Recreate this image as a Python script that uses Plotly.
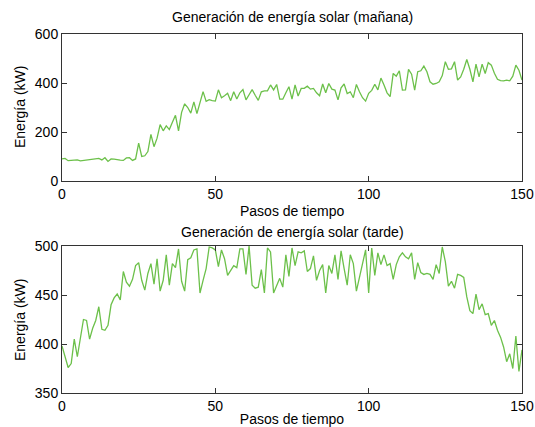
import plotly.graph_objects as go

steps = list(range(151))

morning_kw = [90, 92, 83, 85, 84, 86, 82, 84, 87, 88, 90, 90, 92, 86, 95, 80, 90, 89, 86, 85,
              84, 94, 95, 84, 90, 155, 100, 103, 120, 190, 140, 175, 230, 205, 225, 210, 240, 268, 205, 280,
              315, 300, 277, 323, 275, 320, 365, 325, 332, 328, 326, 372, 340, 348, 358, 328, 364, 335, 360, 373,
              331, 352, 373, 350, 329, 364, 368, 368, 392, 372, 394, 334, 334, 360, 385, 334, 392, 347, 378, 378,
              387, 375, 378, 360, 348, 396, 360, 398, 375, 371, 331, 380, 396, 357, 364, 340, 394, 364, 340, 326,
              358, 370, 395, 372, 420, 392, 360, 344, 439, 428, 450, 371, 372, 456, 436, 371, 446, 450, 469, 446,
              405, 395, 398, 405, 430, 487, 456, 458, 487, 412, 425, 456, 496, 456, 405, 477, 425, 477, 439, 483,
              473, 440, 415, 410, 409, 412, 409, 428, 473, 452, 412]

afternoon_kw = [398, 388, 376, 380, 405, 387, 405, 425, 424, 405, 416, 424, 438, 415, 414, 419, 440, 447, 451, 445,
                474, 463, 459, 466, 480, 483, 465, 455, 472, 482, 461, 487, 454, 465, 491, 460, 482, 478, 497, 464,
                454, 486, 488, 496, 497, 452, 465, 477, 499, 498, 496, 479, 496, 487, 470, 475, 480, 478, 497, 497,
                471, 500, 460, 457, 458, 476, 452, 498, 494, 452, 459, 467, 458, 491, 469, 498, 480, 494, 493, 495,
                474, 477, 490, 465, 475, 481, 452, 480, 472, 491, 466, 495, 477, 460, 491, 482, 454, 469, 484, 496,
                452, 498, 470, 493, 481, 491, 480, 482, 466, 481, 489, 493, 489, 487, 493, 466, 483, 473, 471, 472,
                471, 466, 481, 472, 499, 484, 459, 464, 457, 471, 470, 468, 448, 434, 431, 451, 435, 441, 430, 431,
                419, 424, 414, 407, 397, 382, 390, 375, 408, 372, 394]

x_ticks = [0, 50, 100, 150]
top_y_ticks = [0, 200, 400, 600]
bottom_y_ticks = [350, 400, 450, 500]

titles = ["Generación de energía solar (mañana)", "Generación de energía solar (tarde)"]
x_title = "Pasos de tiempo"
y_title = "Energía (kW)"

W, H = 535, 427
FONT = "Liberation Sans, Arial, sans-serif"
LINE = "#6cc04a"
AX = "#333333"
FS = 14

def py(p):
    return 1 - p / H

fig = go.Figure()
fig.add_trace(go.Scatter(x=steps, y=morning_kw, mode="lines", line=dict(color=LINE, width=1.3),
                         xaxis="x", yaxis="y", showlegend=False))
fig.add_trace(go.Scatter(x=steps, y=afternoon_kw, mode="lines", line=dict(color=LINE, width=1.3),
                         xaxis="x2", yaxis="y2", showlegend=False))

axcommon = dict(showline=True, linecolor=AX, linewidth=1, mirror="ticks", ticks="inside",
                ticklen=5, tickcolor=AX, showgrid=False, zeroline=False, automargin=False,
                tickfont=dict(family=FONT, size=FS, color="#000"))

fig.update_layout(
    width=W, height=H,
    margin=dict(l=62, r=13, t=0, b=0),
    paper_bgcolor="white", plot_bgcolor="white",
    xaxis=dict(domain=[0, 1], range=[0, 150], tickvals=x_ticks, anchor="y", **axcommon),
    yaxis=dict(domain=[py(181), py(34)], range=[0, 600], tickvals=top_y_ticks, anchor="x", **axcommon),
    xaxis2=dict(domain=[0, 1], range=[0, 150], tickvals=x_ticks, anchor="y2",
                title=dict(text=x_title, standoff=3, font=dict(family=FONT, size=FS, color="#000")),
                **axcommon),
    yaxis2=dict(domain=[py(393), py(246)], range=[350, 500], tickvals=bottom_y_ticks, anchor="x2", **axcommon),
)

def ann(text, xpx, ypx, angle=0, yanchor="middle"):
    fig.add_annotation(text=text, xref="paper", yref="paper",
                       x=(xpx - 62) / (W - 62 - 13), y=py(ypx),
                       showarrow=False, textangle=angle,
                       font=dict(family=FONT, size=FS, color="#000"),
                       xanchor="center", yanchor=yanchor)

ann(titles[0], 292, 17)
ann(titles[1], 292, 232)
ann(x_title, 292, 211)
ann(y_title, 20, 107, -90)
ann(y_title, 20, 320, -90)

fig.write_html("out.html")
